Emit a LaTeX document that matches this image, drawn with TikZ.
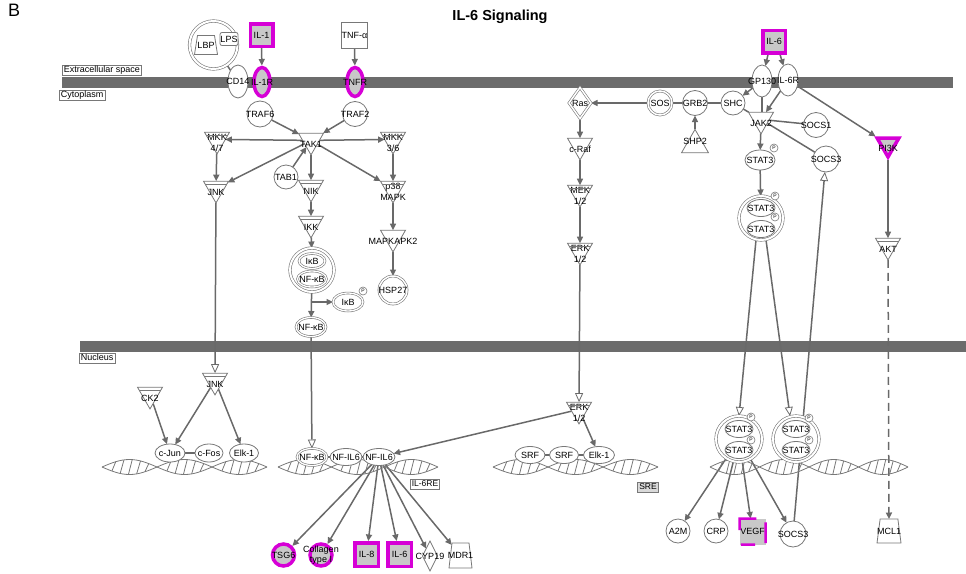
\documentclass[tikz,border=0pt]{standalone}
\usepackage{fontspec}
\setmainfont{Liberation Sans}
\usetikzlibrary{shapes.geometric,arrows.meta,calc}
\definecolor{edge}{RGB}{105,105,105}
\definecolor{bord}{RGB}{120,120,120}
\definecolor{mag}{RGB}{214,0,214}
\definecolor{hl}{RGB}{200,200,200}
\definecolor{memb}{RGB}{108,108,108}
\newcommand\nfont{\fontsize{9}{10.5}\selectfont}
\pgfdeclarelayer{membl}
\pgfdeclarelayer{edgel}
\pgfsetlayers{membl,edgel,main}
% kinase: inverted triangle; #5=1 adds the doubled top edge of a group
\newcommand\kinase[5][]{%
  \node[kin,#1,yshift=3.6pt,label={[lbl,yshift=-3.6pt]center:{#4}}] (#2) at (#3) {};
  \ifnum#5=1
    \draw[draw=bord,line width=0.8pt] ($(#2.corner 2)!0.14!(#2.corner 1)$) -- ($(#2.corner 3)!0.14!(#2.corner 1)$);
  \fi}
% phosphate marker
\newcommand\phos[2]{\node[phs] (#1) at (#2) {P};}
% DNA double strand: #1 left x, #2 lobe length, #3 lobes, #4 axis y
\newcommand\dnahelix[4]{%
  \foreach \k in {1,...,#3}{%
    \pgfmathsetmacro\hx{#1+(\k-1)*#2}%
    \draw[dna] plot[smooth, domain=0:1, samples=17, variable=\t] ({\hx+\t*#2},{#4-7.5*sin(180*\t)});
    \draw[dna] plot[smooth, domain=0:1, samples=17, variable=\t] ({\hx+\t*#2},{#4+7.5*sin(180*\t)});
    \foreach \s in {0.18,0.33,0.48,0.63,0.78}{%
      \draw[dna] ({\hx+\s*#2},{#4+7.5*sin(180*\s)}) -- ({\hx+(\s+0.07)*#2},{#4-7.5*sin(180*(\s+0.07))});
    }
  }}
\begin{document}
\begin{tikzpicture}[x=1pt,y=-1pt,
  lbl/.style={font=\nfont, align=center, inner sep=0pt, text=black},
  tx/.style={label={[lbl]center:{#1}}},
  base/.style={draw=bord, fill=white, line width=0.8pt, inner sep=0pt, outer sep=0pt},
  elp/.style 2 args={base, ellipse, minimum width=#1, minimum height=#2},
  crc/.style={base, circle, minimum size=#1},
  sq/.style={base, rectangle, minimum size=#1},
  dbl/.style={double=white, double distance=#1, line width=0.6pt},
  dbl/.default=1.6pt,
  hit/.style={draw=mag, fill=hl, line width=3.5pt, outer sep=1.75pt},
  kin/.style={base, regular polygon, regular polygon sides=3, shape border rotate=180, minimum size=29pt},
  trap/.style 2 args={base, inner sep=1pt, trapezium, trapezium left angle=80, trapezium right angle=80, trapezium stretches=true, minimum width=#1, minimum height=#2},
  phs/.style={base, circle, minimum size=8pt, line width=0.6pt, font=\fontsize{5}{5}\selectfont},
  cmp/.style={draw=bord, fill=white, line width=0.6pt, font=\fontsize{9}{9}\selectfont, inner xsep=1.5pt, inner ysep=1pt, text height=6.6pt, text depth=1.8pt},
  ln/.style={draw=edge, line width=1.5pt},
  act/.style={ln, -{Triangle[length=6.5pt,width=6pt]}},
  trl/.style={ln, -{Triangle[length=9pt,width=8pt,fill=white,line width=0.8pt]}},
  dna/.style={draw=bord, line width=0.8pt},
]
\useasboundingbox (0,0) rectangle (966,573);

% ---------- membranes ----------
\begin{pgfonlayer}{membl}
  \fill[memb] (62,77) rectangle (953,88);
  \fill[memb] (80,341) rectangle (966,352);
\end{pgfonlayer}

\node[font=\fontsize{18}{18}\selectfont, anchor=north west, inner sep=0pt] (panel) at (8,4) {B};
\node[font=\bfseries\fontsize{14.5}{15}\selectfont] (title) at (500,17) {IL-6 Signaling};

\node[cmp, anchor=west] (ecs) at (62,70) {Extracellular space};
\node[cmp, anchor=west] (cyt) at (59,95.5) {Cytoplasm};
\node[cmp, anchor=west] (nuc) at (79,358) {Nucleus};

% ---------- IL-1 / TNF branch ----------
\node[crc=48pt, dbl=2pt] (lbpc) at (213.5,45) {};
\node[trap={23pt}{19pt}, tx=LBP] (lbp) at (206,45) {};
\node[base, rounded corners=2pt, minimum width=18pt, minimum height=13pt, tx=LPS] (lps) at (229,39) {};
\node[sq=22.5pt, hit, tx=IL-1] (il1) at (261.5,35) {};
\node[sq=26pt, tx=TNF-α] (tnfa) at (354.5,35.5) {};
\node[elp={20pt}{33pt}, tx=CD14] (cd14) at (238,81.5) {};
\node[elp={16pt}{29pt}, hit, outer sep=2pt, tx=IL-1R] (il1r) at (262,82) {};
\node[elp={16pt}{29pt}, hit, outer sep=2pt, tx=TNFR] (tnfr) at (355,82) {};
\node[crc=26pt, tx=TRAF6] (traf6) at (260,114) {};
\node[crc=25pt, tx=TRAF2] (traf2) at (355,114) {};
\kinase{tak1}{311,144}{TAK1}{0}
\kinase{mkk47}{217,143}{MKK\\4/7}{1}
\kinase{mkk36}{393,143}{MKK\\3/6}{1}
\kinase{jnkc}{216,192}{JNK}{1}
\node[crc=24pt, tx=TAB1] (tab1) at (286,177) {};
\kinase{nik}{311,191}{NIK}{1}
\kinase{p38}{393,192}{p38\\MAPK}{1}
\kinase{ikk}{311,227}{IKK}{1}
\node[crc=44pt, dbl=2pt] (nfkbx) at (312,270) {};
\node[elp={26pt}{15pt}, dbl=1.3pt, tx=IκB] (ikbin) at (312,261) {};
\node[elp={29pt}{16pt}, dbl=1.3pt, tx=NF-κB] (nfkbin) at (312,279) {};
\node[elp={30pt}{18pt}, dbl=1.3pt, tx=IκB] (ikbp) at (348,302) {};
\phos{ikbpp}{363,291}
\node[elp={30pt}{19pt}, dbl=1.3pt, tx=NF-κB] (nfkbc) at (311,327) {};
\coordinate (ikbbr) at (311,302);
\kinase{mk2}{393,241}{MAPKAPK2}{0}
\node[crc=28pt, dbl=1.5pt, tx=HSP27] (hsp27) at (393,290) {};

% ---------- IL-6 receptor branch ----------
\node[sq=22.5pt, hit, tx=IL-6] (il6t) at (774,41.5) {};
\node[elp={20pt}{32pt}, tx=GP130] (gp130) at (762,81) {};
\node[elp={20pt}{32pt}, tx=IL-6R] (il6r) at (788,80) {};
\node[crc=24pt, tx=SHC] (shc) at (733,103) {};
\node[crc=25pt, tx=GRB2] (grb2) at (695,103) {};
\node[crc=24pt, dbl=1.5pt, tx=SOS] (sos) at (660,103) {};
\node[base, regular polygon, regular polygon sides=3, minimum size=31pt, yshift=-3.9pt, label={[lbl,yshift=3.9pt]center:SHP2}] (shp2) at (695,141) {};
\node[base, diamond, dbl=1.5pt, minimum width=22pt, minimum height=31pt, tx=Ras] (ras) at (580,103) {};
\kinase{craf}{580,149}{c-Raf}{0}
\kinase{mek}{580,196}{MEK\\1/2}{1}
\kinase{erkc}{580,254}{ERK\\1/2}{1}
\kinase{jak2}{761,123}{JAK2}{0}
\node[crc=25pt, tx=SOCS1] (socs1) at (816,125) {};
\node[elp={30pt}{20pt}, tx=STAT3] (stat3) at (760,160) {};
\phos{stat3p}{774,148}
\node[crc=26pt, tx=SOCS3] (socs3c) at (826,159) {};
\node[crc=44pt, dbl=2pt] (dimc) at (761,218) {};
\node[elp={28pt}{17pt}, tx=STAT3] (dimca) at (761,208) {};
\node[elp={28pt}{17pt}, tx=STAT3] (dimcb) at (761,229) {};
\phos{dimcpa}{775,196}
\phos{dimcpb}{775,217}
\kinase[hit, minimum size=25pt]{pi3k}{888,148}{PI3K}{0}
\kinase{akt}{888,249}{AKT}{1}

% ---------- nucleus ----------
\kinase{ck2}{150,398}{CK2}{1}
\kinase{jnkn}{215,384}{JNK}{1}

% ---------- DNA ----------
\dnahelix{102}{55}{3}{467}
\dnahelix{278}{53.3}{3}{467}
\dnahelix{493}{55}{3}{467}
\dnahelix{710}{49.5}{4}{467}

\node[elp={30pt}{18pt}, tx=c-Jun] (cjun) at (170,453) {};
\node[elp={28pt}{18pt}, tx=c-Fos] (cfos) at (209,453) {};
\node[elp={29pt}{18pt}, tx=Elk-1] (elka) at (244,453) {};

\node[elp={30pt}{17pt}, dbl=1.3pt, tx=NF-κB] (nfkbn) at (312,457) {};
\node[elp={32pt}{17pt}, tx=NF-IL6] (nfila) at (346,457) {};
\node[elp={32pt}{17pt}, tx=NF-IL6] (nfilb) at (379,457) {};
\node[cmp, font=\fontsize{8.5}{9}\selectfont] (il6re) at (425,484) {IL-6RE};
\node[crc=22pt, hit, tx=TSG6] (tsg6) at (283.5,555) {};
\node[crc=22pt, hit, label={[lbl]center:{Collagen\\type I}}] (col) at (321,555) {};
\node[sq=23.5pt, hit, tx=IL-8] (il8) at (366.5,554.5) {};
\node[sq=23.5pt, hit, tx=IL-6] (il6b) at (399.5,554.5) {};
\node[base, diamond, minimum width=15pt, minimum height=30pt, tx=CYP19] (cyp19) at (430,556) {};
\node[trap={23pt}{25pt}, tx=MDR1] (mdr1) at (460.5,555.5) {};

\kinase{erkn}{579,413}{ERK\\1/2}{1}
\node[elp={30pt}{17pt}, tx=SRF] (srfa) at (530,455) {};
\node[elp={29pt}{17pt}, tx=SRF] (srfb) at (564,455) {};
\node[elp={31pt}{17pt}, tx=Elk-1] (elkb) at (599,455) {};
\node[cmp, fill=hl!70, font=\fontsize{8.5}{9}\selectfont] (sre) at (648,487.5) {SRE};

\node[crc=46pt, dbl=2pt] (dimn1) at (739,439) {};
\node[elp={28pt}{17pt}, tx=STAT3] (dimn1a) at (739,429) {};
\node[elp={28pt}{17pt}, tx=STAT3] (dimn1b) at (739,450) {};
\phos{dimn1pa}{751,417}
\phos{dimn1pb}{751,440}
\node[crc=46pt, dbl=2pt] (dimn2) at (796,439) {};
\node[elp={28pt}{17pt}, tx=STAT3] (dimn2a) at (796,429) {};
\node[elp={28pt}{17pt}, tx=STAT3] (dimn2b) at (796,450) {};
\phos{dimn2pa}{809,418}
\phos{dimn2pb}{809,440}
\node[crc=24pt, tx=A2M] (a2m) at (678,531) {};
\node[crc=24pt, tx=CRP] (crp) at (716,531) {};
\node[sq=26pt, draw=none, fill=hl, tx=VEGF] (vegf) at (752.5,531.5) {};
\draw[draw=mag, line width=2.5pt] ($(vegf.north west)!0.45!(vegf.south west)$) -- (vegf.north west) -- ($(vegf.north west)!0.65!(vegf.north east)$);
\draw[draw=mag, line width=2.5pt] ($(vegf.south west)!0.05!(vegf.south east)$) -- ($(vegf.south west)!0.6!(vegf.south east)$);
\draw[draw=mag, line width=2.5pt] ($(vegf.north east)!0.15!(vegf.south east)$) -- ($(vegf.north east)!0.95!(vegf.south east)$);
\node[crc=26pt, tx=SOCS3] (socs3n) at (793,534) {};
\node[trap={24pt}{24pt}, tx=MCL1] (mcl1) at (889,531) {};

% ---------- interactions ----------
\begin{pgfonlayer}{edgel}
  \draw[ln] (lbpc) -- (cd14);
  \draw[act] (il1) -- (il1r);
  \draw[act] (tnfa) -- (tnfr);
  \draw[act] (traf6) -- (tak1);
  \draw[act] (traf2) -- (tak1);
  \draw[act] (tak1.center) -- (mkk47);
  \draw[act] (tak1.center) -- (mkk36);
  \draw[act] (tak1) -- (jnkc);
  \draw[act] (tab1) -- (tak1);
  \draw[act] (tak1) -- (nik);
  \draw[act] (tak1) -- (p38);
  \draw[act] (mkk47) -- (jnkc);
  \draw[act] (mkk36) -- (p38);
  \draw[act] (nik) -- (ikk);
  \draw[act] (ikk) -- (nfkbx);
  \draw[act] (nfkbx) -- (nfkbc);
  \draw[act] (ikbbr) -- (ikbp);
  \draw[act] (p38) -- (mk2);
  \draw[act] (mk2) -- (hsp27);
  \draw[trl] (jnkc) -- (jnkn);
  \draw[trl] (nfkbc) -- (nfkbn);

  \draw[act] (ck2) -- (cjun);
  \draw[act] (jnkn) -- (cjun);
  \draw[act] (jnkn) -- (elka);
  \draw[ln] (cjun) -- (cfos);
  \draw[ln] (nfkbn) -- (nfila);
  \draw[ln] (nfila) -- (nfilb);
  \foreach \g in {tsg6,col,il8,il6b,cyp19,mdr1}{\draw[act] (nfilb) -- (\g);}

  \draw[act] ([xshift=-6pt]il6t.south) -- (gp130);
  \draw[act] ([xshift=6pt]il6t.south) -- (il6r);
  \draw[act] (il6r) -- (pi3k);
  \draw[act] (pi3k) -- (akt);
  \draw[act, dash pattern=on 8pt off 5pt] (akt) -- (mcl1);
  \draw[act] (gp130) -- (shc);
  \draw[ln] (gp130.south) -- (gp130.south |- jak2.north);
  \draw[act] (il6r) -- (jak2);
  \draw[ln] (shc) -- (grb2);
  \draw[ln] (grb2) -- (sos);
  \draw[act] (sos) -- (ras);
  \draw[act] (shp2) -- (grb2);
  \draw[ln] (shc) -- (jak2);
  \draw[ln] (jak2.center) -- (socs1);
  \draw[ln] (jak2) -- (socs3c);
  \draw[act] (jak2) -- (stat3);
  \draw[act] (stat3) -- (dimc);
  \draw[act] (ras) -- (craf);
  \draw[act] (craf) -- (mek);
  \draw[act] (mek) -- (erkc);
  \draw[trl] (erkc) -- (erkn);
  \draw[act] (erkn) -- (elkb);
  \draw[act] (erkn) -- (nfilb);
  \draw[ln] (srfa) -- (srfb);
  \draw[ln] (srfb) -- (elkb);
  \draw[trl] ([xshift=-5pt]dimc.south) -- (dimn1.north);
  \draw[trl] ([xshift=5pt]dimc.south) -- ([xshift=-6pt]dimn2.north);
  \draw[trl] (socs3n) -- (socs3c);
  \draw[act] (dimn1) -- (a2m);
  \draw[act] (dimn1) -- (crp);
  \draw[act] (dimn1) -- (vegf);
  \draw[act] (dimn1) -- (socs3n);
\end{pgfonlayer}
\end{tikzpicture}
\end{document}
